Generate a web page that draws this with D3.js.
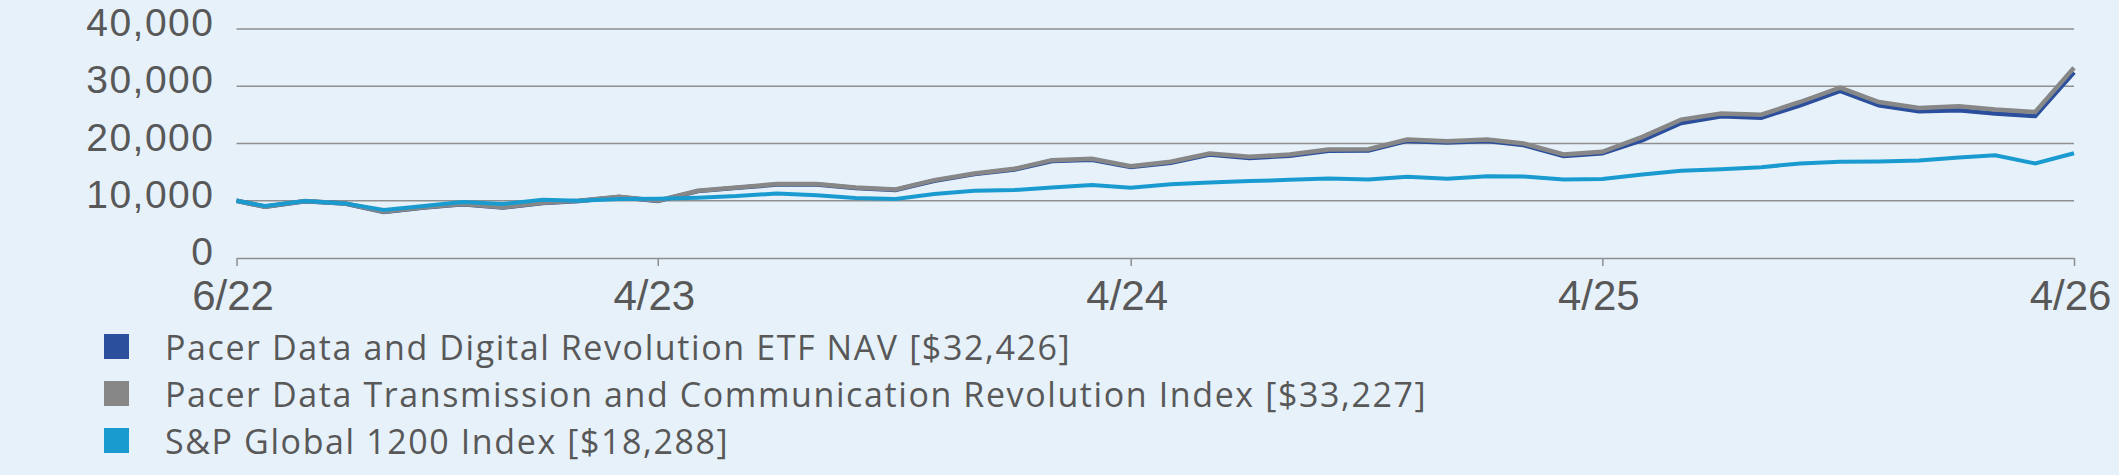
<!DOCTYPE html>
<meta charset="utf-8" />
<style>
  body {
    margin: 0px;
    padding: 0px;
    background: #e7f1fa;
  }
  svg {
    display: block;
  }
  .grid line {
    stroke: #8f8f8f;
    stroke-width: 1.5px;
  }
  .yaxis text {
    font-family: "Liberation Sans", Arial, sans-serif;
    font-size: 39px;
    letter-spacing: 1.5px;
    fill: #585858;
  }
  .xaxis text {
    font-family: "Liberation Sans", Arial, sans-serif;
    font-size: 42px;
    fill: #585858;
  }
  .xaxis path,
  .xaxis line {
    stroke: #8f8f8f;
    stroke-width: 1.5px;
  }
  .legend text {
    font-family: "Open Sans", "Noto Sans", sans-serif;
    font-size: 34px;
    letter-spacing: 1.6px;
    fill: #585858;
  }
</style>

<svg width="2119" height="475"></svg>

<script src="https://d3js.org/d3.v7.min.js"></script>
<script>
  // inception date, then month ends
  const dates = [
    "2022-06-08", "2022-06-30", "2022-07-31", "2022-08-31", "2022-09-30", "2022-10-31", "2022-11-30", "2022-12-31",
    "2023-01-31", "2023-02-28", "2023-03-31", "2023-04-30", "2023-05-31", "2023-06-30", "2023-07-31", "2023-08-31",
    "2023-09-30", "2023-10-31", "2023-11-30", "2023-12-31", "2024-01-31", "2024-02-29", "2024-03-31", "2024-04-30",
    "2024-05-31", "2024-06-30", "2024-07-31", "2024-08-31", "2024-09-30", "2024-10-31", "2024-11-30", "2024-12-31",
    "2025-01-31", "2025-02-28", "2025-03-31", "2025-04-30", "2025-05-31", "2025-06-30", "2025-07-31", "2025-08-31",
    "2025-09-30", "2025-10-31", "2025-11-30", "2025-12-31", "2026-01-31", "2026-02-28", "2026-03-31", "2026-04-30"
  ];

  const etfNav = [
    10000, 8940, 9930, 9510, 8060, 8820, 9390, 8820, 9620, 9960, 10650, 9950,
    11680, 12250, 12820, 12820, 12240, 11890, 13500, 14650, 15450, 16950, 17170, 15900,
    16640, 18060, 17480, 17880, 18740, 18790, 20450, 20160, 20440, 19740, 17840, 18290,
    20570, 23590, 24750, 24520, 26670, 29170, 26670, 25630, 25800, 25220, 24810, 32426
  ];

  const dataIndex = [
    10000, 8960, 9950, 9540, 8090, 8850, 9420, 8850, 9650, 10000, 10700, 10000,
    11750, 12330, 12910, 12910, 12330, 11980, 13600, 14770, 15580, 17090, 17320, 16040,
    16800, 18250, 17670, 18080, 18950, 19010, 20690, 20400, 20690, 19990, 18080, 18540,
    21150, 24170, 25220, 25040, 27250, 29750, 27250, 26200, 26500, 25920, 25510, 33227
  ];

  const globalIndex = [
    10000, 9080, 9950, 9540, 8380, 9080, 9770, 9420, 10180, 10000, 10300, 10350,
    10530, 10820, 11280, 10940, 10470, 10300, 11170, 11750, 11860, 12330, 12730, 12270,
    12880, 13200, 13430, 13660, 13900, 13720, 14190, 13840, 14300, 14240, 13720, 13780,
    14590, 15230, 15520, 15870, 16510, 16800, 16860, 17030, 17550, 17960, 16510, 18288
  ];

  const tickDates = ["2022-06-08", "2023-04-30", "2024-04-30", "2025-04-30", "2026-04-30"];
  const tickLabels = ["6/22", "4/23", "4/24", "4/25", "4/26"];
  const yTicks = [0, 10000, 20000, 30000, 40000];

  const seriesNames = [
    "Pacer Data and Digital Revolution ETF NAV [$32,426]",
    "Pacer Data Transmission and Communication Revolution Index [$33,227]",
    "S&P Global 1200 Index [$18,288]"
  ];
  const seriesColors = ["#2b4f9c", "#878787", "#1a9bd0"];

  const svg = d3.select("svg");
  const parse = d3.utcParse("%Y-%m-%d");
  const xDates = dates.map(parse);

  const x = d3.scaleUtc().domain([xDates[0], xDates[xDates.length - 1]]).range([236.5, 2074]);
  const y = d3.scaleLinear().domain([0, 40000]).range([258, 29]);

  // gridlines
  svg
    .append("g")
    .attr("class", "grid")
    .selectAll("line")
    .data(yTicks.slice(1))
    .enter()
    .append("line")
    .attr("x1", x.range()[0])
    .attr("x2", x.range()[1])
    .attr("y1", (d) => y(d))
    .attr("y2", (d) => y(d));

  // y axis labels only
  const yAxis = svg
    .append("g")
    .attr("class", "yaxis")
    .attr("transform", "translate(" + x.range()[0] + ",0)")
    .call(d3.axisLeft(y).tickValues(yTicks).tickFormat(d3.format(",")).tickSize(0).tickPadding(22));
  yAxis.select(".domain").remove();
  yAxis.selectAll("text").attr("dy", "0.17em");

  // x axis
  const xAxis = svg
    .append("g")
    .attr("class", "xaxis")
    .attr("transform", "translate(0," + y(0) + ")")
    .call(
      d3
        .axisBottom(x)
        .tickValues(tickDates.map(parse))
        .tickFormat((d, i) => tickLabels[i])
        .tickSizeInner(8)
        .tickSizeOuter(0)
        .tickPadding(14)
    );
  xAxis.selectAll("text").attr("dx", "-4");

  // lines, ETF under index, global on top
  const allSeries = [etfNav, dataIndex, globalIndex];
  const line = d3
    .line()
    .x((d, i) => x(xDates[i]))
    .y((d) => y(d));

  svg
    .append("g")
    .selectAll("path")
    .data(allSeries)
    .enter()
    .append("path")
    .attr("d", line)
    .attr("fill", "none")
    .attr("stroke", (d, i) => seriesColors[i])
    .attr("stroke-width", (d, i) => (i === 2 ? 4 : 4.5))
    .attr("stroke-linejoin", "miter");

  // legend
  const legend = svg
    .append("g")
    .attr("class", "legend")
    .selectAll("g")
    .data(seriesNames)
    .enter()
    .append("g")
    .attr("transform", (d, i) => "translate(104," + (334 + i * 47) + ")");

  legend
    .append("rect")
    .attr("width", 25)
    .attr("height", 25)
    .attr("fill", (d, i) => seriesColors[i]);

  legend
    .append("text")
    .attr("x", 61)
    .attr("y", 26)
    .text((d) => d);
</script>
